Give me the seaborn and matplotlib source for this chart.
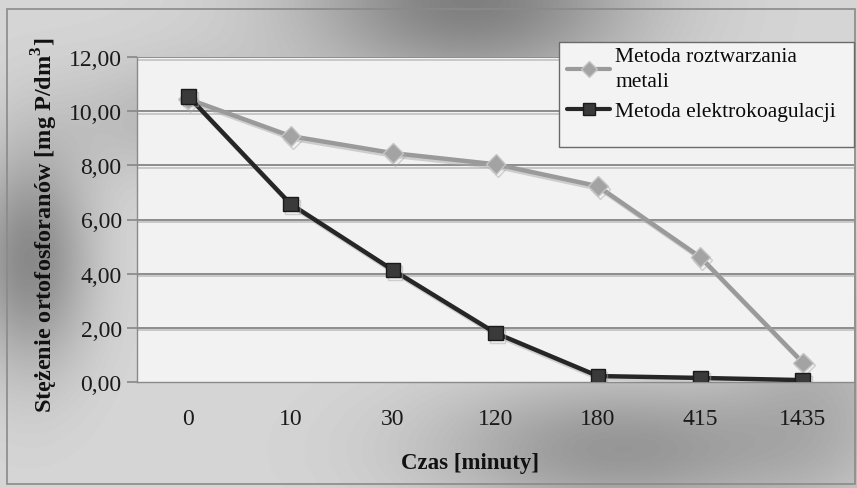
import numpy as np
import pandas as pd
import matplotlib
matplotlib.use("Agg")
import matplotlib.pyplot as plt
import matplotlib.patheffects as pe
from matplotlib.patches import Rectangle
from matplotlib.lines import Line2D
import seaborn as sns

# ---- data ----
czas = ["0", "10", "30", "120", "180", "415", "1435"]
roztwarzanie = [10.45, 9.08, 8.45, 8.04, 7.23, 4.61, 0.72]
elektrokoagulacja = [10.55, 6.57, 4.13, 1.81, 0.22, 0.15, 0.07]
serie = ["Metoda roztwarzania\nmetali", "Metoda elektrokoagulacji"]
y_ticks = [0, 2, 4, 6, 8, 10, 12]
y_ticklabels = ["0,00", "2,00", "4,00", "6,00", "8,00", "10,00", "12,00"]

df = pd.DataFrame({
    "Czas": czas * 2,
    "Stezenie": roztwarzanie + elektrokoagulacja,
    "Seria": [serie[0]] * len(czas) + [serie[1]] * len(czas),
})

sns.set_theme(style="white")
plt.rcParams["font.family"] = ["Liberation Serif", "DejaVu Serif"]
plt.rcParams["mathtext.fontset"] = "custom"
plt.rcParams["mathtext.rm"] = "Liberation Serif"
plt.rcParams["mathtext.bf"] = "Liberation Serif:bold"

W, H = 857, 489
fig = plt.figure(figsize=(W / 100, H / 100), dpi=100)

# ---- metallic background ----
bg = fig.add_axes([0, 0, 1, 1], zorder=-10)
yy, xx = np.mgrid[0:H, 0:W]
img = np.full((H, W), 0.84)
def blob(cx, cy, sx, sy, amp):
    return amp * np.exp(-(((xx - cx) / sx) ** 2 + ((yy - cy) / sy) ** 2))
img -= blob(470, 0, 170, 90, 0.34)
img -= blob(30, 260, 60, 110, 0.30)
img -= blob(620, 450, 190, 70, 0.25)
img -= blob(180, 120, 120, 60, 0.12)
img -= blob(820, 380, 90, 120, 0.12)
img = np.clip(img, 0, 1)
bg.imshow(img, cmap="gray", vmin=0, vmax=1, aspect="auto", extent=(0, W, H, 0))
bg.set_axis_off()
fig.patches.append(Rectangle((7 / W, 4 / H), 848 / W, (H - 14) / H, transform=fig.transFigure,
                             fill=False, edgecolor="#8a8a8a", linewidth=1.2, zorder=-5))

# ---- main axes ----
ax = fig.add_axes([137 / W, (H - 383) / H, (854 - 137) / W, (383 - 58) / H])
ax.set_facecolor("#f2f2f2")

shadow = [pe.SimpleLineShadow(offset=(0, -1.8), shadow_color="#c0c0c0", alpha=0.9), pe.Normal()]
for v in y_ticks[1:]:
    ax.axhline(v, color="#858585", linewidth=1.3, zorder=1, path_effects=shadow)

palette = {serie[0]: "#9a9a9a", serie[1]: "#262626"}
sns.lineplot(data=df, x="Czas", y="Stezenie", hue="Seria", style="Seria",
             palette=palette, markers={serie[0]: "D", serie[1]: "s"}, dashes=False,
             linewidth=3.2, markersize=10, ax=ax, legend=False, sort=False, zorder=3)
mfc = {0: "#a3a3a3", 1: "#3a3a3a"}
mec = {0: "#c4c4c4", 1: "#1a1a1a"}
for i, line in enumerate(ax.get_lines()[-2:]):
    line.set_markerfacecolor(mfc[i])
    line.set_markeredgecolor(mec[i])
    line.set_markeredgewidth(1.0)
    line.set_markersize(10 if i == 0 else 10.5)
    line.set_path_effects([pe.SimpleLineShadow(offset=(1.5, -2), shadow_color="#aaaaaa", alpha=0.5), pe.Normal()])

ax.set_xlim(-0.5, len(czas) - 0.5)
ax.set_ylim(0, 12)
ax.set_yticks(y_ticks)
ax.set_yticklabels(y_ticklabels)
for s in ["top", "right"]:
    ax.spines[s].set_visible(False)
ax.spines["left"].set_color("#8a8a8a")
ax.spines["bottom"].set_color("#8a8a8a")
ax.spines["left"].set_linewidth(1.0)
ax.spines["bottom"].set_linewidth(1.0)
ax.tick_params(axis="y", which="both", left=True, length=7, color="#8a8a8a", labelsize=17,
               labelcolor="#1a1a1a", pad=4)
ax.tick_params(axis="x", which="both", bottom=False, labelsize=17, labelcolor="#1a1a1a", pad=13)

ax.set_xlabel("Czas [minuty]", fontsize=16.5, fontweight="bold", color="#111111")
ax.xaxis.set_label_coords(0.465, -0.215)
ax.set_ylabel("Stężenie ortofosforanów [mg P/dm$^\\mathbf{3}$]", fontsize=17.5, fontweight="bold",
              color="#111111")
ax.yaxis.set_label_coords(-0.107, 0.485)

# ---- legend ----
fig.patches.append(Rectangle((559 / W, 1 - 148 / H), (854 - 559) / W, (148 - 43) / H,
                             transform=fig.transFigure, facecolor="#f3f3f3",
                             edgecolor="#6a6a6a", linewidth=1.0, zorder=5))
handles = [
    Line2D([], [], color="#9a9a9a", linewidth=3, marker="D", markersize=8,
           markerfacecolor="#a3a3a3", markeredgecolor="#c4c4c4"),
    Line2D([], [], color="#262626", linewidth=3, marker="s", markersize=9,
           markerfacecolor="#3a3a3a", markeredgecolor="#1a1a1a"),
]
leg = fig.legend(handles, serie, loc="upper left", bbox_to_anchor=(567 / W, 1 - 48 / H),
                 frameon=False, fontsize=15.5, handlelength=2.0,
                 handletextpad=0.25, borderpad=0.0, labelspacing=0.45, borderaxespad=0,
                 prop={"size": 15.5})
leg.set_zorder(6)
for t in leg.get_texts():
    t.set_color("#0a0a0a")
    t.set_linespacing(1.45)

fig.savefig("out.png", dpi=100)
